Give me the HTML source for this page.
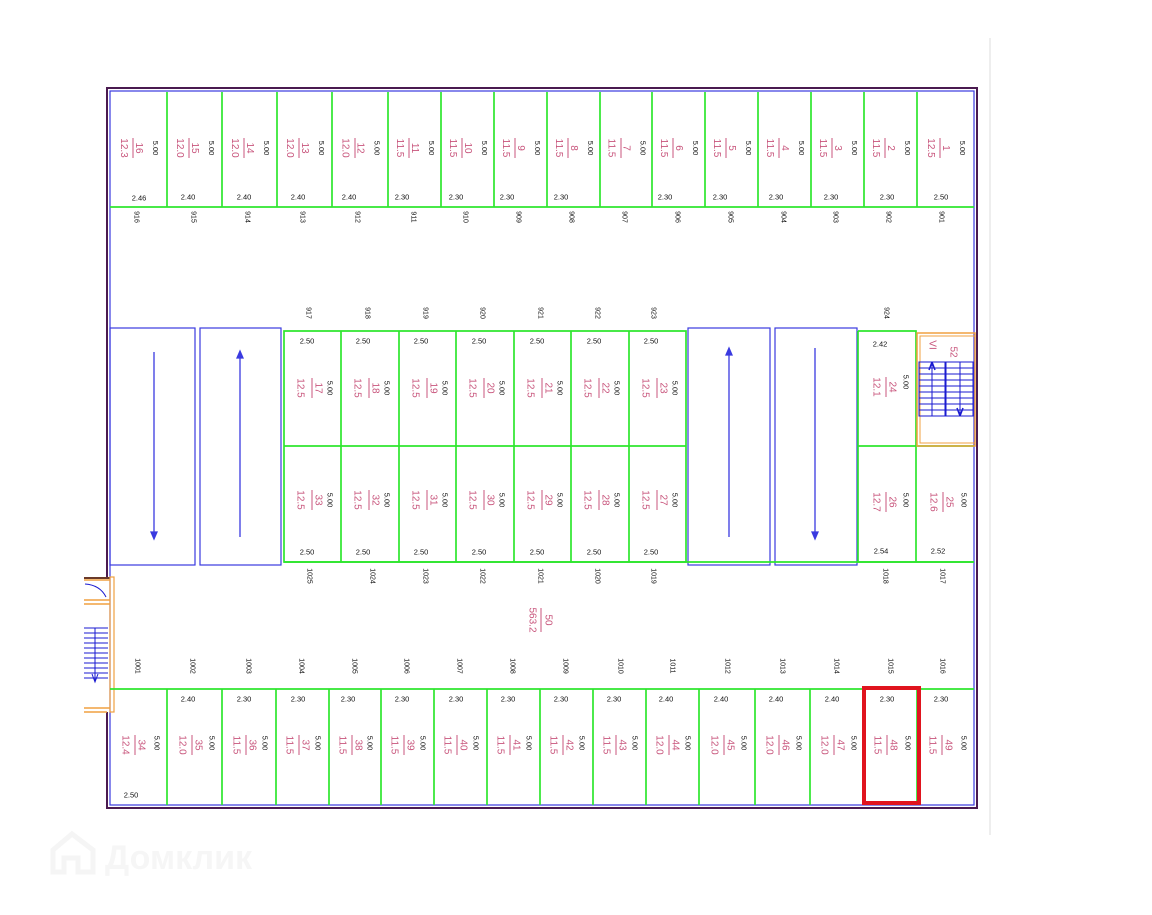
<!DOCTYPE html>
<html><head><meta charset="utf-8"><style>
html,body{margin:0;padding:0;background:#fff}
svg{display:block}
text{font-family:"Liberation Sans",sans-serif;text-anchor:middle;dominant-baseline:central}
.p{fill:#c8557c;font-size:10px}
.k{fill:#111;font-size:7.5px}
.n{fill:#111;font-size:7px}
.g{fill:none;stroke:#2ee62e;stroke-width:1.7}
.bl{fill:none;stroke:#3a3ae0;stroke-width:1.2}
.pl{stroke:#c8557c;stroke-width:1}
</style></head><body>
<svg width="1152" height="915" viewBox="0 0 1152 915" xmlns="http://www.w3.org/2000/svg">
<line x1="990" y1="38" x2="990" y2="835" stroke="#ddd" stroke-width="1"/>
<path d="M107,577 V88 H977 V808 H107 V712" fill="none" stroke="#4a1a50" stroke-width="2"/>
<rect x="110" y="91" width="864" height="714" fill="none" stroke="#3a3ae0" stroke-width="1.2"/>
<line x1="110" y1="207" x2="974" y2="207" class="g"/>
<g class="g">
<path d="M167,92V207M222,92V207M277,92V207M332,92V207M388,92V207M441,92V207M494,92V207M547,92V207M600,92V207M652,92V207M705,92V207M758,92V207M811,92V207M864,92V207M917,92V207"/>
</g>
<rect x="110" y="328" width="85" height="237" class="bl"/>
<rect x="200" y="328" width="81" height="237" class="bl"/>
<rect x="688" y="328" width="82" height="237" class="bl"/>
<rect x="775" y="328" width="82" height="237" class="bl"/>
<g stroke="#3a3ae0" stroke-width="1.3" fill="#3a3ae0">
<line x1="154" y1="352" x2="154" y2="535"/><path d="M151,532 L157,532 L154,539Z"/>
<line x1="240" y1="355" x2="240" y2="537"/><path d="M237,358 L243,358 L240,351Z"/>
<line x1="729" y1="352" x2="729" y2="537"/><path d="M726,355 L732,355 L729,348Z"/>
<line x1="815" y1="348" x2="815" y2="535"/><path d="M812,532 L818,532 L815,539Z"/>
</g>
<path class="g" d="M284,331H686V562H284ZM284,446H686M341,331V562M399,331V562M456,331V562M514,331V562M571,331V562M629,331V562"/>
<path class="g" d="M858,331H916V446M858,331V562H974M858,446H974M916,446V562"/>
<line x1="284" y1="562" x2="974" y2="562" class="g"/>
<rect x="917" y="333" width="58" height="113" fill="none" stroke="#f0a040" stroke-width="1.5"/>
<rect x="920" y="336" width="55" height="107" fill="none" stroke="#f0a040" stroke-width="1"/>
<g stroke="#1a1ad0" stroke-width="1" fill="none">
<rect x="919" y="362" width="54" height="54"/>
<path d="M945,362V416M946,362V416M932,362V416M960,362V416M919,368H973M919,374H973M919,380H973M919,386H973M919,392H973M919,398H973M919,404H973M919,410H973"/>
<path d="M932,362L929,370M932,362L935,370M960,416L957,408M960,416L963,408" stroke-width="1.5"/>
</g>
<text class="p" transform="translate(932,345) rotate(90)">VI</text>
<text class="p" transform="translate(953,352) rotate(90)">52</text>
<g fill="none">
<path d="M84,580H110M84,600H110M84,604H110M84,708H110M84,712H107" stroke="#f0a040" stroke-width="1.5"/>
<path d="M84,578H110" stroke="#6a3a2a" stroke-width="2"/>
<rect x="110" y="577" width="4" height="135" stroke="#f0a040" stroke-width="1.2"/>
<path d="M84,628H108M84,633H108M84,638H108M84,643H108M84,648H108M84,653H108M84,658H108M84,663H108M84,668H108M84,673H108M84,678H108M95,628V681M92,674L95,682L98,674" stroke="#1a1ad0" stroke-width="1"/>
<path d="M85,584 Q100,585 106,597" stroke="#1a1ad0" stroke-width="1"/>
</g>
<line x1="110" y1="689" x2="974" y2="689" class="g"/>
<path class="g" d="M167,689V805M222,689V805M276,689V805M329,689V805M381,689V805M434,689V805M487,689V805M540,689V805M593,689V805M646,689V805M699,689V805M755,689V805M810,689V805M864,689V805M917,689V805"/>
<rect x="864" y="688" width="55" height="115" fill="none" stroke="#e0141e" stroke-width="4"/>

<g class="p">
<text transform="translate(123.5,148) rotate(90)">12.3</text><text transform="translate(138.5,148) rotate(90)">16</text>
<text transform="translate(179.5,148) rotate(90)">12.0</text><text transform="translate(194.5,148) rotate(90)">15</text>
<text transform="translate(234.5,148) rotate(90)">12.0</text><text transform="translate(249.5,148) rotate(90)">14</text>
<text transform="translate(289.5,148) rotate(90)">12.0</text><text transform="translate(304.5,148) rotate(90)">13</text>
<text transform="translate(345,148) rotate(90)">12.0</text><text transform="translate(360,148) rotate(90)">12</text>
<text transform="translate(399.5,148) rotate(90)">11.5</text><text transform="translate(414.5,148) rotate(90)">11</text>
<text transform="translate(452.5,148) rotate(90)">11.5</text><text transform="translate(467.5,148) rotate(90)">10</text>
<text transform="translate(505.5,148) rotate(90)">11.5</text><text transform="translate(520.5,148) rotate(90)">9</text>
<text transform="translate(558.5,148) rotate(90)">11.5</text><text transform="translate(573.5,148) rotate(90)">8</text>
<text transform="translate(611,148) rotate(90)">11.5</text><text transform="translate(626,148) rotate(90)">7</text>
<text transform="translate(663.5,148) rotate(90)">11.5</text><text transform="translate(678.5,148) rotate(90)">6</text>
<text transform="translate(716.5,148) rotate(90)">11.5</text><text transform="translate(731.5,148) rotate(90)">5</text>
<text transform="translate(769.5,148) rotate(90)">11.5</text><text transform="translate(784.5,148) rotate(90)">4</text>
<text transform="translate(822.5,148) rotate(90)">11.5</text><text transform="translate(837.5,148) rotate(90)">3</text>
<text transform="translate(875.5,148) rotate(90)">11.5</text><text transform="translate(890.5,148) rotate(90)">2</text>
<text transform="translate(930.5,148) rotate(90)">12.5</text><text transform="translate(945.5,148) rotate(90)">1</text>
</g>
<path class="pl" d="M133,138V158M189,138V158M244,138V158M299,138V158M355,138V158M409,138V158M462,138V158M515,138V158M568,138V158M621,138V158M673,138V158M726,138V158M779,138V158M832,138V158M885,138V158M940,138V158"/>
<g class="k">
<text transform="translate(155.5,148) rotate(90)">5.00</text><text transform="translate(211.5,148) rotate(90)">5.00</text><text transform="translate(266.5,148) rotate(90)">5.00</text><text transform="translate(321.5,148) rotate(90)">5.00</text><text transform="translate(377,148) rotate(90)">5.00</text><text transform="translate(431.5,148) rotate(90)">5.00</text><text transform="translate(484.5,148) rotate(90)">5.00</text><text transform="translate(537.5,148) rotate(90)">5.00</text><text transform="translate(590.5,148) rotate(90)">5.00</text><text transform="translate(643,148) rotate(90)">5.00</text><text transform="translate(695.5,148) rotate(90)">5.00</text><text transform="translate(748.5,148) rotate(90)">5.00</text><text transform="translate(801.5,148) rotate(90)">5.00</text><text transform="translate(854.5,148) rotate(90)">5.00</text><text transform="translate(907.5,148) rotate(90)">5.00</text><text transform="translate(962.5,148) rotate(90)">5.00</text>
<text x="139" y="198">2.46</text><text x="188" y="197">2.40</text><text x="244" y="197">2.40</text><text x="298" y="197">2.40</text><text x="349" y="197">2.40</text><text x="402" y="197">2.30</text><text x="456" y="197">2.30</text><text x="507" y="197">2.30</text><text x="561" y="197">2.30</text><text x="665" y="197">2.30</text><text x="720" y="197">2.30</text><text x="776" y="197">2.30</text><text x="831" y="197">2.30</text><text x="887" y="197">2.30</text><text x="941" y="197">2.50</text>
</g>
<g class="n">
<text transform="translate(136,217) rotate(90)">916</text><text transform="translate(193,217) rotate(90)">915</text><text transform="translate(247,217) rotate(90)">914</text><text transform="translate(302,217) rotate(90)">913</text><text transform="translate(357,217) rotate(90)">912</text><text transform="translate(413,217) rotate(90)">911</text><text transform="translate(465,217) rotate(90)">910</text><text transform="translate(518,217) rotate(90)">909</text><text transform="translate(571,217) rotate(90)">908</text><text transform="translate(624,217) rotate(90)">907</text><text transform="translate(677,217) rotate(90)">906</text><text transform="translate(730,217) rotate(90)">905</text><text transform="translate(783,217) rotate(90)">904</text><text transform="translate(835,217) rotate(90)">903</text><text transform="translate(888,217) rotate(90)">902</text><text transform="translate(941,217) rotate(90)">901</text>
<text transform="translate(308,313) rotate(90)">917</text><text transform="translate(367,313) rotate(90)">918</text><text transform="translate(425,313) rotate(90)">919</text><text transform="translate(482,313) rotate(90)">920</text><text transform="translate(540,313) rotate(90)">921</text><text transform="translate(597,313) rotate(90)">922</text><text transform="translate(653,313) rotate(90)">923</text><text transform="translate(886,313) rotate(90)">924</text>
<text transform="translate(309,576) rotate(90)">1025</text><text transform="translate(372,576) rotate(90)">1024</text><text transform="translate(425,576) rotate(90)">1023</text><text transform="translate(482,576) rotate(90)">1022</text><text transform="translate(540,576) rotate(90)">1021</text><text transform="translate(597,576) rotate(90)">1020</text><text transform="translate(653,576) rotate(90)">1019</text><text transform="translate(885,576) rotate(90)">1018</text><text transform="translate(942,576) rotate(90)">1017</text>
<text transform="translate(137,666) rotate(90)">1001</text><text transform="translate(192,666) rotate(90)">1002</text><text transform="translate(248,666) rotate(90)">1003</text><text transform="translate(301,666) rotate(90)">1004</text><text transform="translate(354,666) rotate(90)">1005</text><text transform="translate(406,666) rotate(90)">1006</text><text transform="translate(459,666) rotate(90)">1007</text><text transform="translate(512,666) rotate(90)">1008</text><text transform="translate(565,666) rotate(90)">1009</text><text transform="translate(620,666) rotate(90)">1010</text><text transform="translate(672,666) rotate(90)">1011</text><text transform="translate(727,666) rotate(90)">1012</text><text transform="translate(782,666) rotate(90)">1013</text><text transform="translate(836,666) rotate(90)">1014</text><text transform="translate(890,666) rotate(90)">1015</text><text transform="translate(942,666) rotate(90)">1016</text>
</g>

<g class="p">
<text transform="translate(300,388) rotate(90)">12.5</text><text transform="translate(318,388) rotate(90)">17</text>
<text transform="translate(357,388) rotate(90)">12.5</text><text transform="translate(375,388) rotate(90)">18</text>
<text transform="translate(415,388) rotate(90)">12.5</text><text transform="translate(433,388) rotate(90)">19</text>
<text transform="translate(472,388) rotate(90)">12.5</text><text transform="translate(490,388) rotate(90)">20</text>
<text transform="translate(530,388) rotate(90)">12.5</text><text transform="translate(548,388) rotate(90)">21</text>
<text transform="translate(587,388) rotate(90)">12.5</text><text transform="translate(605,388) rotate(90)">22</text>
<text transform="translate(645,388) rotate(90)">12.5</text><text transform="translate(663,388) rotate(90)">23</text>
<text transform="translate(300,500) rotate(90)">12.5</text><text transform="translate(318,500) rotate(90)">33</text>
<text transform="translate(357,500) rotate(90)">12.5</text><text transform="translate(375,500) rotate(90)">32</text>
<text transform="translate(415,500) rotate(90)">12.5</text><text transform="translate(433,500) rotate(90)">31</text>
<text transform="translate(472,500) rotate(90)">12.5</text><text transform="translate(490,500) rotate(90)">30</text>
<text transform="translate(530,500) rotate(90)">12.5</text><text transform="translate(548,500) rotate(90)">29</text>
<text transform="translate(587,500) rotate(90)">12.5</text><text transform="translate(605,500) rotate(90)">28</text>
<text transform="translate(645,500) rotate(90)">12.5</text><text transform="translate(663,500) rotate(90)">27</text>
<text transform="translate(876,387) rotate(90)">12.1</text><text transform="translate(892,387) rotate(90)">24</text>
<text transform="translate(876,502) rotate(90)">12.7</text><text transform="translate(892,502) rotate(90)">26</text>
<text transform="translate(933,502) rotate(90)">12.6</text><text transform="translate(949,502) rotate(90)">25</text>
<text transform="translate(532,620) rotate(90)">563.2</text><text transform="translate(548,620) rotate(90)">50</text>
</g>
<path class="pl" d="M312,378V398M369,378V398M427,378V398M484,378V398M542,378V398M599,378V398M657,378V398M312,490V510M369,490V510M427,490V510M484,490V510M542,490V510M599,490V510M657,490V510M886,377V397M886,492V512M943,492V512M541,608V632"/>
<g class="k">
<text transform="translate(330,388) rotate(90)">5.00</text><text transform="translate(387,388) rotate(90)">5.00</text><text transform="translate(445,388) rotate(90)">5.00</text><text transform="translate(502,388) rotate(90)">5.00</text><text transform="translate(560,388) rotate(90)">5.00</text><text transform="translate(617,388) rotate(90)">5.00</text><text transform="translate(675,388) rotate(90)">5.00</text>
<text transform="translate(330,500) rotate(90)">5.00</text><text transform="translate(387,500) rotate(90)">5.00</text><text transform="translate(445,500) rotate(90)">5.00</text><text transform="translate(502,500) rotate(90)">5.00</text><text transform="translate(560,500) rotate(90)">5.00</text><text transform="translate(617,500) rotate(90)">5.00</text><text transform="translate(675,500) rotate(90)">5.00</text>
<text transform="translate(906,382) rotate(90)">5.00</text><text transform="translate(906,500) rotate(90)">5.00</text><text transform="translate(964,500) rotate(90)">5.00</text>
<text x="307" y="341">2.50</text><text x="363" y="341">2.50</text><text x="421" y="341">2.50</text><text x="479" y="341">2.50</text><text x="537" y="341">2.50</text><text x="594" y="341">2.50</text><text x="651" y="341">2.50</text>
<text x="307" y="552">2.50</text><text x="363" y="552">2.50</text><text x="421" y="552">2.50</text><text x="479" y="552">2.50</text><text x="537" y="552">2.50</text><text x="594" y="552">2.50</text><text x="651" y="552">2.50</text>
<text x="880" y="344">2.42</text><text x="881" y="551">2.54</text><text x="938" y="551">2.52</text>
</g>

<g class="p">
<text transform="translate(125,745) rotate(90)">12.4</text><text transform="translate(141,745) rotate(90)">34</text>
<text transform="translate(182,745) rotate(90)">12.0</text><text transform="translate(198,745) rotate(90)">35</text>
<text transform="translate(236,745) rotate(90)">11.5</text><text transform="translate(252,745) rotate(90)">36</text>
<text transform="translate(289,745) rotate(90)">11.5</text><text transform="translate(305,745) rotate(90)">37</text>
<text transform="translate(342,745) rotate(90)">11.5</text><text transform="translate(358,745) rotate(90)">38</text>
<text transform="translate(394,745) rotate(90)">11.5</text><text transform="translate(410,745) rotate(90)">39</text>
<text transform="translate(447,745) rotate(90)">11.5</text><text transform="translate(463,745) rotate(90)">40</text>
<text transform="translate(500,745) rotate(90)">11.5</text><text transform="translate(516,745) rotate(90)">41</text>
<text transform="translate(553,745) rotate(90)">11.5</text><text transform="translate(569,745) rotate(90)">42</text>
<text transform="translate(606,745) rotate(90)">11.5</text><text transform="translate(622,745) rotate(90)">43</text>
<text transform="translate(659,745) rotate(90)">12.0</text><text transform="translate(675,745) rotate(90)">44</text>
<text transform="translate(714,745) rotate(90)">12.0</text><text transform="translate(730,745) rotate(90)">45</text>
<text transform="translate(769,745) rotate(90)">12.0</text><text transform="translate(785,745) rotate(90)">46</text>
<text transform="translate(824,745) rotate(90)">12.0</text><text transform="translate(840,745) rotate(90)">47</text>
<text transform="translate(877,745) rotate(90)">11.5</text><text transform="translate(893,745) rotate(90)">48</text>
<text transform="translate(932,745) rotate(90)">11.5</text><text transform="translate(948,745) rotate(90)">49</text>
</g>
<path class="pl" d="M135,735V755M192,735V755M246,735V755M299,735V755M352,735V755M404,735V755M457,735V755M510,735V755M563,735V755M616,735V755M669,735V755M724,735V755M779,735V755M834,735V755M887,735V755M942,735V755"/>
<g class="k">
<text transform="translate(157,743) rotate(90)">5.00</text><text transform="translate(212,743) rotate(90)">5.00</text><text transform="translate(265,743) rotate(90)">5.00</text><text transform="translate(318,743) rotate(90)">5.00</text><text transform="translate(370,743) rotate(90)">5.00</text><text transform="translate(423,743) rotate(90)">5.00</text><text transform="translate(476,743) rotate(90)">5.00</text><text transform="translate(529,743) rotate(90)">5.00</text><text transform="translate(582,743) rotate(90)">5.00</text><text transform="translate(635,743) rotate(90)">5.00</text><text transform="translate(688,743) rotate(90)">5.00</text><text transform="translate(744,743) rotate(90)">5.00</text><text transform="translate(799,743) rotate(90)">5.00</text><text transform="translate(854,743) rotate(90)">5.00</text><text transform="translate(908,743) rotate(90)">5.00</text><text transform="translate(964,743) rotate(90)">5.00</text>
<text x="131" y="795">2.50</text><text x="188" y="699">2.40</text><text x="244" y="699">2.30</text><text x="298" y="699">2.30</text><text x="348" y="699">2.30</text><text x="402" y="699">2.30</text><text x="456" y="699">2.30</text><text x="508" y="699">2.30</text><text x="561" y="699">2.30</text><text x="614" y="699">2.30</text><text x="666" y="699">2.40</text><text x="721" y="699">2.40</text><text x="776" y="699">2.40</text><text x="832" y="699">2.40</text><text x="887" y="699">2.30</text><text x="941" y="699">2.30</text>
</g>
<g fill="none" stroke="#f5f5f5" stroke-width="5">
<path d="M53,872V850L72,834L93,850V872H78V858H64V872Z"/>
</g>
<text x="105" y="858" style="font-size:34px;font-weight:bold;fill:#f6f6f6;text-anchor:start">Домклик</text>
</svg>
</body></html>
